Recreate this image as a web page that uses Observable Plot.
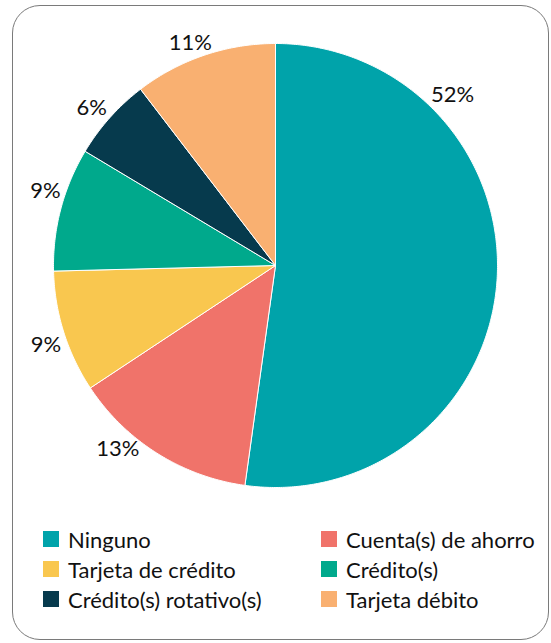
<!DOCTYPE html>
<html>
<head>
<meta charset="utf-8">
<script src="https://cdn.jsdelivr.net/npm/d3@7"></script>
<script src="https://cdn.jsdelivr.net/npm/@observablehq/plot@0.6"></script>
<style>
  html, body { margin: 0; padding: 0; background: #fff; }
  body { width: 551px; height: 643px; position: relative; overflow: hidden; font-family: Lato, "Noto Sans", sans-serif; }
  #frame { position: absolute; left: 12px; top: 5px; width: 537px; height: 635px; border: 1.5px solid #7a7a7a; border-radius: 28px; box-sizing: border-box; }
  #chart { position: absolute; left: 0; top: 0; }
  #legend { position: absolute; left: 43px; top: 524px; display: grid; grid-template-columns: 278px 220px; grid-auto-rows: 30px; font-size: 22px; color: #111; }
  .item { display: flex; align-items: center; white-space: nowrap; }
  .sw { width: 16px; height: 16px; margin-right: 9px; flex: none; }
</style>
</head>
<body>
<div id="frame"></div>
<div id="chart"></div>
<div id="legend"></div>
<script>
const categories = ["Ninguno", "Cuenta(s) de ahorro", "Tarjeta de crédito", "Crédito(s)", "Crédito(s) rotativo(s)", "Tarjeta débito"];
const values = [52.2, 13.5, 8.9, 9.0, 6.0, 10.4];
const percentLabels = ["52%", "13%", "9%", "9%", "6%", "11%"];
const colors = ["#00A3AA", "#F0736A", "#F9C74F", "#00A98C", "#063A4D", "#F9B071"];

// label placement ("best fit"): fraction along each slice and distance from centre (in radii)
const labelFrac = [0.245, 0.674, 0.446, 0.60, 0.447, 0.44];
const labelDist = [1.108, 1.09, 1.095, 1.09, 1.09, 1.072];

const total = d3.sum(values);
const slices = [];
const labels = [];
let acc = 0;
categories.forEach((c, i) => {
  const a0 = acc / total * 2 * Math.PI;
  acc += values[i];
  const a1 = acc / total * 2 * Math.PI;
  slices.push({cat: c, x: 0, y: 0});
  const n = Math.max(2, Math.ceil((a1 - a0) / 0.01));
  for (let k = 0; k <= n; k++) {
    const a = a0 + (a1 - a0) * k / n;
    slices.push({cat: c, x: Math.sin(a), y: Math.cos(a)});
  }
  slices.push({cat: c, x: 0, y: 0});
  const am = a0 + (a1 - a0) * labelFrac[i];
  const r = labelDist[i];
  labels.push({cat: c, x: r * Math.sin(am), y: r * Math.cos(am), text: percentLabels[i]});
});

const plot = Plot.plot({
  width: 551,
  height: 520,
  margin: 0,
  x: {domain: [-1, 1], range: [53, 497], axis: null},
  y: {domain: [-1, 1], range: [487, 43], axis: null},
  color: {domain: categories, range: colors},
  style: {fontFamily: "Lato, 'Noto Sans', sans-serif", background: "transparent"},
  marks: [
    Plot.line(slices, {x: "x", y: "y", z: "cat", fill: "cat", stroke: "white", strokeWidth: 1, curve: "linear"}),
    Plot.text(labels, {x: "x", y: "y", text: "text", fontSize: 22, fill: "#111"})
  ]
});
document.getElementById("chart").appendChild(plot);

const legend = document.getElementById("legend");
categories.forEach((c, i) => {
  const it = document.createElement("div");
  it.className = "item";
  const sw = document.createElement("span");
  sw.className = "sw";
  sw.style.background = colors[i];
  const t = document.createElement("span");
  t.textContent = c;
  it.appendChild(sw); it.appendChild(t);
  legend.appendChild(it);
});
</script>
</body>
</html>
